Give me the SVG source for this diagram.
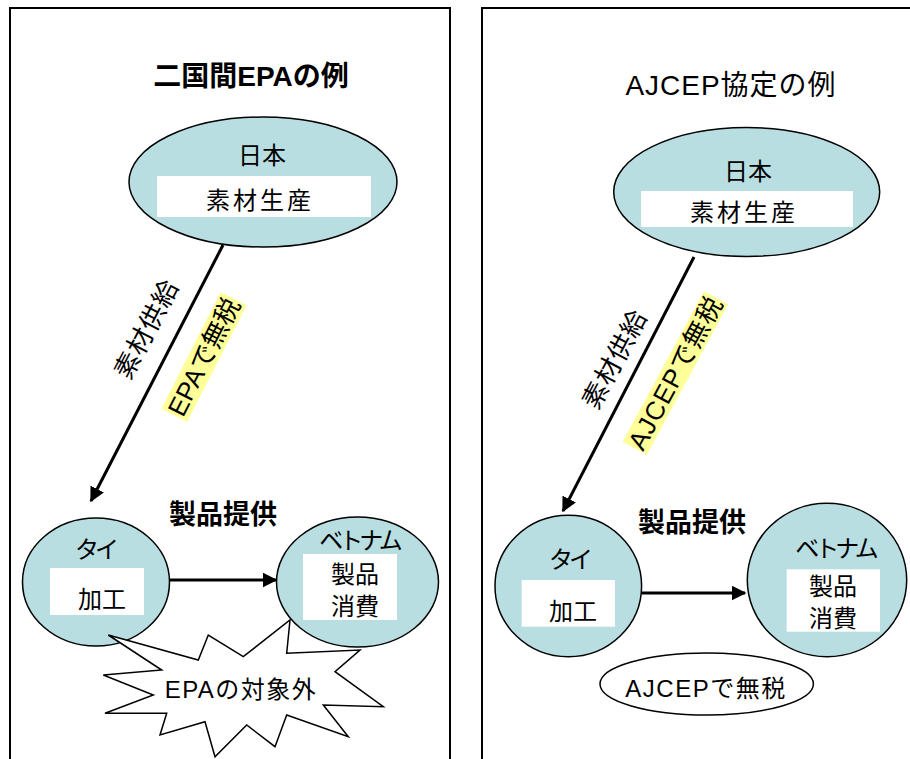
<svg xmlns="http://www.w3.org/2000/svg" width="910" height="759" viewBox="0 0 910 759">
<style>
text{font-family:"Liberation Sans","Noto Sans CJK JP",sans-serif;fill:#000}
.panel{fill:#fff;stroke:#000;stroke-width:2}
.node{fill:#B8DEE2;stroke:#000;stroke-width:1.5}
.box{fill:#fff}
.lbl{font-size:24px;text-anchor:middle}
.rot{font-size:26px;text-anchor:middle}
.kana{font-size:24px;letter-spacing:-4px}
.ttl{font-size:28px;text-anchor:middle}
.b{font-weight:bold}
.edge{stroke:#000;stroke-width:3;fill:none}
.hl{fill:#FFFF99}
</style>
<defs>
<marker id="ah" viewBox="0 0 10 10" refX="9" refY="5" markerWidth="5" markerHeight="5" orient="auto" markerUnits="strokeWidth">
<path d="M0,0 L10,5 L0,10 Z" fill="#000"/>
</marker>
</defs>
<rect class="panel" x="10" y="8" width="440" height="770"/>
<rect class="panel" x="482" y="8" width="440" height="770"/>
<text class="ttl b" x="251" y="86">二国間EPAの例</text>
<text class="ttl" x="731" y="95" style="letter-spacing:1px">AJCEP協定の例</text>

<g id="connectors">
<line class="edge" x1="223" y1="245" x2="91" y2="501" marker-end="url(#ah)"/>
<line class="edge" x1="170" y1="580" x2="276" y2="580" marker-end="url(#ah)"/>
<line class="edge" x1="694" y1="257" x2="563" y2="511" marker-end="url(#ah)"/>
<line class="edge" x1="642" y1="593" x2="745" y2="593" marker-end="url(#ah)"/>
<text class="rot" transform="translate(146.7,329) rotate(-62.5)" dominant-baseline="central" style="letter-spacing:1px">素材供給</text>
<g transform="translate(204,357) rotate(-63)">
<rect class="hl" x="-65.5" y="-14.5" width="131" height="29"/>
<text class="rot" x="0" y="0" dominant-baseline="central">EPAで無税</text>
</g>
<text class="rot" transform="translate(615,359) rotate(-62)" dominant-baseline="central" style="letter-spacing:1px">素材供給</text>
<g transform="translate(675.5,373) rotate(-61.6)">
<rect class="hl" x="-85.5" y="-13.8" width="171" height="27.5"/>
<text class="rot" x="0" y="0" dominant-baseline="central" style="letter-spacing:1px">AJCEPで無税</text>
</g>
<text class="ttl b" x="223" y="524" style="font-size:27px">製品提供</text>
<text class="ttl b" x="692" y="532" style="font-size:27px">製品提供</text>
</g>

<g id="japan-left">
<ellipse class="node" cx="263" cy="182" rx="134" ry="65"/>
<rect class="box" x="157" y="176" width="214" height="41"/>
<text class="lbl" x="262" y="164">日本</text>
<text class="lbl" x="260" y="209" style="letter-spacing:3px">素材生産</text>
</g>
<g id="thai-left">
<ellipse class="node" cx="96" cy="582" rx="73.5" ry="64"/>
<rect class="box" x="50" y="568" width="94" height="47"/>
<text class="lbl kana" x="95" y="558">タイ</text>
<text class="lbl" x="102" y="608">加工</text>
</g>
<g id="vietnam-left">
<ellipse class="node" cx="357.5" cy="582" rx="81" ry="65"/>
<rect class="box" x="303" y="554" width="94" height="66"/>
<text class="lbl kana" x="359" y="549">ベトナム</text>
<text class="lbl" x="355" y="583">製品</text>
<text class="lbl" x="355" y="615">消費</text>
</g>
<g id="excluded">
<polygon points="108.3,635 198.3,660 208.3,635 243.3,656.7 290,620 286.7,653.3 360,650 335,671.7 383.3,706.7 323.3,705 348.3,736.7 286.7,715 275,746.7 246.7,725 215,756.7 205,721.7 160,735 166.7,713.3 105,713.3 153.3,695 103.3,675 161.7,670" fill="#fff" stroke="#000" stroke-width="1.5" stroke-linejoin="miter"/>
<text class="lbl" x="241" y="698" style="letter-spacing:1.5px">EPAの対象外</text>
</g>

<g id="japan-right">
<ellipse class="node" cx="746.7" cy="192" rx="133" ry="64.5"/>
<rect class="box" x="641" y="191" width="212" height="36"/>
<text class="lbl" x="748" y="180">日本</text>
<text class="lbl" x="744" y="221" style="letter-spacing:3px">素材生産</text>
</g>
<g id="thai-right">
<ellipse class="node" cx="568.3" cy="586" rx="73.3" ry="70.8"/>
<rect class="box" x="521.7" y="580" width="93.3" height="46.7"/>
<text class="lbl kana" x="569" y="568">タイ</text>
<text class="lbl" x="573" y="620">加工</text>
</g>
<g id="vietnam-right">
<ellipse class="node" cx="827" cy="580" rx="79.7" ry="76.7"/>
<rect class="box" x="786.7" y="569.3" width="93.3" height="62.4"/>
<text class="lbl kana" x="835" y="557">ベトナム</text>
<text class="lbl" x="833" y="595">製品</text>
<text class="lbl" x="833" y="627">消費</text>
</g>
<g id="tariff-free">
<ellipse cx="706.7" cy="684" rx="106.7" ry="31" fill="#fff" stroke="#000" stroke-width="1.5"/>
<text class="lbl" x="706" y="697" style="letter-spacing:1.5px">AJCEPで無税</text>
</g>
</svg>
